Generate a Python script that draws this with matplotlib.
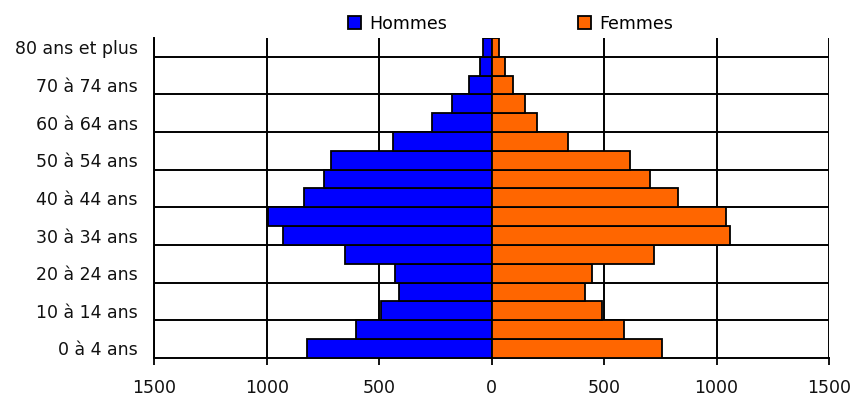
import matplotlib.pyplot as plt
import numpy as np

# tranches d'age, du bas vers le haut
ages = ['0 à 4 ans', '5 à 9 ans', '10 à 14 ans', '15 à 19 ans', '20 à 24 ans',
        '25 à 29 ans', '30 à 34 ans', '35 à 39 ans', '40 à 44 ans', '45 à 49 ans',
        '50 à 54 ans', '55 à 59 ans', '60 à 64 ans', '65 à 69 ans', '70 à 74 ans',
        '75 à 79 ans', '80 ans et plus']
hommes = [819, 605, 493, 410, 428, 651, 926, 993, 833, 745, 713, 438, 267, 178, 100, 53, 37]
femmes = [758, 590, 489, 417, 447, 722, 1060, 1042, 827, 703, 614, 340, 203, 150, 96, 59, 35]
xticks = [-1500, -1000, -500, 0, 500, 1000, 1500]

plt.rcParams['font.family'] = ['DejaVu Sans']
fig = plt.figure(figsize=(8.52, 4.03), dpi=100)
ax = fig.add_axes([0.181, 0.112, 0.792, 0.794])

y = np.arange(len(ages))
ax.barh(y, -np.array(hommes), height=1.0, color='#0000FF', edgecolor='black',
        linewidth=1.3, label='Hommes', zorder=3)
ax.barh(y, femmes, height=1.0, color='#FF6600', edgecolor='black',
        linewidth=1.3, label='Femmes', zorder=3)

ax.set_xlim(-1500, 1500)
ax.set_ylim(-0.5, len(ages) - 0.5)
ax.set_xticks(xticks)
ax.set_xticklabels([str(abs(v)) for v in xticks], fontsize=12.5, color='#111111')
ax.tick_params(axis='x', length=5, width=1.3, pad=10)

ax.set_yticks(y[::2])
ax.set_yticklabels(ages[::2], fontsize=12.5, color='#111111')
ax.set_yticks(np.arange(1.5, len(ages) - 1, 2), minor=True)
ax.tick_params(axis='y', which='both', length=0, pad=12)

ax.grid(axis='x', color='black', linewidth=1.4, zorder=1)
ax.grid(axis='y', which='minor', color='black', linewidth=1.4, zorder=1)
for s in ['top', 'right']:
    ax.spines[s].set_visible(False)
for s in ['left', 'bottom']:
    ax.spines[s].set_linewidth(1.4)

ax.legend(loc='lower center', bbox_to_anchor=(0.528, 0.995), ncol=2, frameon=False,
          fontsize=12.5, handlelength=0.75, handleheight=0.75, columnspacing=7.5,
          handletextpad=0.5, borderaxespad=0)

fig.savefig('out.png', dpi=100)
